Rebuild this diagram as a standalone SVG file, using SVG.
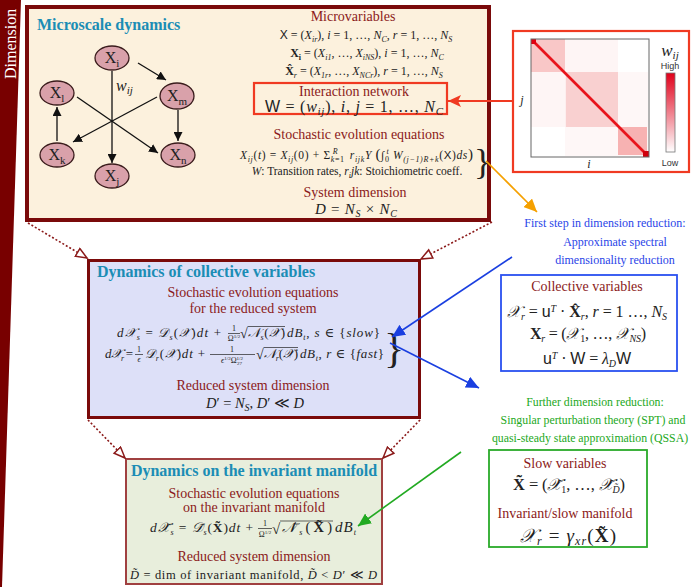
<svg xmlns="http://www.w3.org/2000/svg" width="691" height="587" viewBox="0 0 691 587">
<defs>
<style>
.t{font-family:"Liberation Serif",serif;fill:#8b1a1a;font-size:14px;text-anchor:middle}
.m{font-family:"Liberation Serif","DejaVu Serif",serif;fill:#222;font-size:12px;text-anchor:middle}
.eq{font-family:"Liberation Serif","DejaVu Serif",serif;fill:#222;font-size:13px}
.fr{font-family:"Liberation Serif","DejaVu Serif",serif;fill:#222;font-size:8px;text-anchor:middle}
.bar{stroke:#222;stroke-width:0.7}
.i{font-style:italic}
.sf{font-family:"Liberation Sans",sans-serif}
.b{font-weight:bold}
.s{font-size:8px;baseline-shift:-3px}
.p{font-size:8px;baseline-shift:5px}
.h{font-family:"Liberation Serif",serif;font-weight:bold;fill:#1b8db5;font-size:16px}
.nl{font-family:"Liberation Serif",serif;font-size:16px;fill:#222;text-anchor:middle}
.nl .s{font-size:11px;baseline-shift:-4px}
.node ellipse{fill:#d9a1aa;stroke:#3a1c1c;stroke-width:1.3}
.e{stroke:#111;stroke-width:1.3;fill:none;marker-end:url(#ah)}
.blue{font-family:"Liberation Serif",serif;fill:#2a44e8;font-size:12px;text-anchor:middle}
.green{font-family:"Liberation Serif",serif;fill:#22a822;font-size:11.8px;text-anchor:middle}
.dot{stroke:#8b1a1a;stroke-width:1.6;stroke-dasharray:2 2;fill:none;marker-end:url(#ad)}
</style>
<marker id="ah" markerUnits="userSpaceOnUse" markerWidth="10" markerHeight="9" refX="9" refY="4.5" orient="auto"><path d="M0,0 L9,4.5 L0,9 z" fill="#111"/></marker>
<marker id="ar" markerUnits="userSpaceOnUse" markerWidth="14" markerHeight="12" refX="13" refY="6" orient="auto"><path d="M0,0 L13,6 L0,12 L3,6 z" fill="#f03a22"/></marker>
<marker id="ao" markerUnits="userSpaceOnUse" markerWidth="14" markerHeight="12" refX="13" refY="6" orient="auto"><path d="M0,0 L13,6 L0,12 z" fill="#f5a000"/></marker>
<marker id="ab" markerUnits="userSpaceOnUse" markerWidth="14" markerHeight="12" refX="13" refY="6" orient="auto"><path d="M0,0 L13,6 L0,12 z" fill="#1a3fe0"/></marker>
<marker id="ag" markerUnits="userSpaceOnUse" markerWidth="14" markerHeight="12" refX="13" refY="6" orient="auto"><path d="M0,0 L13,6 L0,12 z" fill="#22aa22"/></marker>
<marker id="ad" markerUnits="userSpaceOnUse" markerWidth="14" markerHeight="12" refX="12" refY="5.5" orient="auto"><path d="M1,1 L12,5.5 L1,10 z" fill="#fff" stroke="#8b1a1a" stroke-width="1.5"/></marker>
<linearGradient id="cb" x1="0" y1="0" x2="0" y2="1"><stop offset="0" stop-color="#e0001a"/><stop offset="1" stop-color="#fff"/></linearGradient>
</defs>

<g id="dimension-axis">
<polygon points="0,0 21,0 2,587 0,587" fill="#780000"/>
<text transform="translate(16,79) rotate(-90)" font-family="Liberation Serif, serif" font-size="16" fill="#fff">Dimension</text>
</g>

<g id="microscale-box">
<rect x="27" y="7" width="462" height="213" fill="#fcf1dd" stroke="#7a0a0a" stroke-width="4"/>
<text class="h" x="37" y="30">Microscale dynamics</text>
<text class="t" x="353" y="21">Microvariables</text>
<text class="m" x="366" y="39"><tspan class="sf">X</tspan> = (<tspan class="i">X</tspan><tspan class="s i">ir</tspan>), <tspan class="i">i</tspan> = 1, …, <tspan class="i">N</tspan><tspan class="s i">C</tspan>, <tspan class="i">r</tspan> = 1, …, <tspan class="i">N</tspan><tspan class="s i">S</tspan></text>
<text class="m" x="367" y="57"><tspan class="b">X</tspan><tspan class="s b">i</tspan> = (<tspan class="i">X</tspan><tspan class="s i">i1</tspan>, …, <tspan class="i">X</tspan><tspan class="s i">iNS</tspan>), <tspan class="i">i</tspan> = 1, …, <tspan class="i">N</tspan><tspan class="s i">C</tspan></text>
<text class="m" x="364" y="75"><tspan class="b">X̂</tspan><tspan class="s i">r</tspan> = (<tspan class="i">X</tspan><tspan class="s i">1r</tspan>, …, <tspan class="i">X</tspan><tspan class="s i">NCr</tspan>), <tspan class="i">r</tspan> = 1, …, <tspan class="i">N</tspan><tspan class="s i">S</tspan></text>
<text class="t" x="359" y="139">Stochastic evolution equations</text>
<text class="eq" x="240" y="159" style="font-size:11.5px" textLength="233" lengthAdjust="spacing"><tspan class="i">X</tspan><tspan class="s i">ij</tspan>(<tspan class="i">t</tspan>) = <tspan class="i">X</tspan><tspan class="s i">ij</tspan>(0) + Σ<tspan class="s i">k</tspan><tspan class="s">=1</tspan><tspan class="p i" dx="-12">R</tspan><tspan dx="8"> </tspan><tspan class="i">r</tspan><tspan class="s i">ijk</tspan><tspan class="i">Y</tspan> <tspan font-size="15">(</tspan>∫<tspan class="s">0</tspan><tspan class="p i" dx="-3">t</tspan> <tspan class="i">W</tspan><tspan class="s i">(j−1)R+k</tspan>(<tspan class="sf">X</tspan>)<tspan class="i">ds</tspan><tspan font-size="15">)</tspan></text>
<text class="m" x="357" y="175" style="font-size:11.5px"><tspan class="i">W</tspan>: Transition rates, <tspan class="i">r</tspan><tspan class="s i">i</tspan><tspan class="i">jk</tspan>: Stoichiometric coeff.</text>
<text x="474" y="174" font-family="Liberation Serif, serif" font-size="36" fill="#222">}</text>
<text class="t" x="355" y="197">System dimension</text>
<text class="eq" x="315" y="214" style="font-size:15px" textLength="82" lengthAdjust="spacing"><tspan class="i">D</tspan> = <tspan class="i">N</tspan><tspan class="s i" style="font-size:10px">S</tspan> × <tspan class="i">N</tspan><tspan class="s i" style="font-size:10px">C</tspan></text>
</g>

<g id="interaction-network">
<rect x="254" y="83" width="193" height="31" fill="none" stroke="#f03a22" stroke-width="2.2"/>
<text class="t" x="354" y="95.5">Interaction network</text>
<text class="eq" x="265" y="111.5" style="font-size:16px" textLength="178" lengthAdjust="spacing"><tspan class="sf">W</tspan> = (<tspan class="i">w</tspan><tspan class="s i" style="font-size:11px">ij</tspan>), <tspan class="i">i, j</tspan> = 1, …, <tspan class="i">N</tspan><tspan class="s i" style="font-size:11px">C</tspan></text>
</g>

<g id="node-Xi" class="node"><ellipse cx="112" cy="58" rx="17" ry="12"/><text class="nl" x="112" y="63">X<tspan class="s">i</tspan></text></g>
<g id="node-Xm" class="node"><ellipse cx="177" cy="96" rx="17" ry="13"/><text class="nl" x="177" y="101">X<tspan class="s">m</tspan></text></g>
<g id="node-Xl" class="node"><ellipse cx="57" cy="93" rx="17" ry="12"/><text class="nl" x="57" y="98">X<tspan class="s">l</tspan></text></g>
<g id="node-Xk" class="node"><ellipse cx="57" cy="155" rx="17" ry="12"/><text class="nl" x="57" y="160">X<tspan class="s">k</tspan></text></g>
<g id="node-Xn" class="node"><ellipse cx="178" cy="155" rx="17" ry="12"/><text class="nl" x="178" y="160">X<tspan class="s">n</tspan></text></g>
<g id="node-Xj" class="node"><ellipse cx="112" cy="176" rx="17" ry="12"/><text class="nl" x="112" y="181">X<tspan class="s">j</tspan></text></g>

<g id="graph-edges">
<line class="e" x1="138" y1="63" x2="166" y2="80"/>
<line class="e" x1="112" y1="71" x2="112" y2="163"/>
<line class="e" x1="178" y1="110" x2="178" y2="141"/>
<line class="e" x1="157" y1="97" x2="73" y2="142"/>
<line class="e" x1="77" y1="97" x2="158" y2="153"/>
<line class="e" x1="57" y1="141" x2="57" y2="107"/>
<text x="116" y="91" font-family="Liberation Serif, serif" font-style="italic" font-size="16" fill="#222">w<tspan font-size="11" baseline-shift="-3">ij</tspan></text>
</g>

<g id="heatmap">
<rect x="513" y="31" width="176" height="141" fill="#fff" stroke="#f03a22" stroke-width="2.2"/>
<rect x="531" y="39" width="118" height="118" fill="#fff"/>
<rect x="531" y="39" width="87" height="88" fill="#f8c8c8" opacity="0.18"/>
<rect x="565" y="72" width="83" height="84" fill="#f8c8c8" opacity="0.15"/>
<rect x="531" y="39" width="34" height="33" fill="#f39a9a" opacity="0.5"/>
<rect x="566" y="72" width="52" height="55" fill="#f5aaaa" opacity="0.45"/>
<rect x="618" y="127" width="29" height="28" fill="#f07a7a" opacity="0.55"/>
<line x1="532" y1="40" x2="648" y2="156" stroke="#e8141c" stroke-width="2.6"/>
<rect x="531" y="39" width="5" height="5" fill="#e00010"/>
<rect x="643" y="151" width="6" height="6" fill="#d0000c"/>
<rect x="531" y="39" width="118" height="118" fill="none" stroke="#666" stroke-width="1"/>
<text x="670" y="56" font-family="Liberation Serif, serif" font-style="italic" font-size="17" fill="#222" text-anchor="middle">w<tspan font-size="11" baseline-shift="-3">ij</tspan></text>
<text x="670" y="69" font-family="Liberation Sans, sans-serif" font-size="9" fill="#333" text-anchor="middle">High</text>
<rect x="666" y="73" width="9" height="79" fill="url(#cb)" stroke="#777" stroke-width="0.8"/>
<text x="670" y="166" font-family="Liberation Sans, sans-serif" font-size="9" fill="#333" text-anchor="middle">Low</text>
<text x="522" y="104" font-family="Liberation Serif, serif" font-style="italic" font-size="12" fill="#222" text-anchor="middle">j</text>
<text x="589" y="168" font-family="Liberation Serif, serif" font-style="italic" font-size="12" fill="#222" text-anchor="middle">i</text>
</g>

<g id="step1-label">
<text class="blue" x="605" y="227">First step in dimension reduction:</text>
<text class="blue" x="615" y="246">Approximate spectral</text>
<text class="blue" x="615" y="264">dimensionality reduction</text>
</g>

<g id="collective-variables-box">
<rect x="501" y="275" width="176" height="96" fill="#fff" stroke="#2a50f0" stroke-width="1.8"/>
<text class="t" x="587" y="291">Collective variables</text>
<text class="eq" x="507" y="317" style="font-size:16px" textLength="160" lengthAdjust="spacing"><tspan class="i">𝒳</tspan><tspan class="s i" style="font-size:10px">r</tspan> = <tspan class="sf">u</tspan><tspan class="p i" style="font-size:10px">T</tspan> · <tspan class="b">X̂</tspan><tspan class="s i" style="font-size:10px">r</tspan>, <tspan class="i">r</tspan> = 1 …, <tspan class="i">N</tspan><tspan class="s i" style="font-size:10px">S</tspan></text>
<text class="eq" x="530" y="339" style="font-size:16px" textLength="116" lengthAdjust="spacing"><tspan class="b">X</tspan><tspan class="s i" style="font-size:10px">r</tspan> = (<tspan class="i">𝒳</tspan><tspan class="s" style="font-size:10px">1</tspan>, …, <tspan class="i">𝒳</tspan><tspan class="s i" style="font-size:10px">NS</tspan>)</text>
<text class="eq" x="543" y="364" style="font-size:16px" textLength="88" lengthAdjust="spacing"><tspan class="sf">u</tspan><tspan class="p i" style="font-size:10px">T</tspan> · <tspan class="sf">W</tspan> = <tspan class="i">λ</tspan><tspan class="s i" style="font-size:10px">D</tspan><tspan class="sf">W</tspan></text>
</g>

<g id="step2-label">
<text class="green" x="595" y="406">Further dimension reduction:</text>
<text class="green" x="593" y="424">Singular perturbation theory (SPT) and</text>
<text class="green" x="590" y="442">quasi-steady state approximation (QSSA)</text>
</g>

<g id="slow-variables-box">
<rect x="489" y="450" width="158" height="97" fill="#fff" stroke="#2aaa2a" stroke-width="1.8"/>
<text class="t" x="565" y="468">Slow variables</text>
<text class="eq" x="513" y="490" style="font-size:16.5px" textLength="112" lengthAdjust="spacing"><tspan class="b">X̃</tspan> = (<tspan class="i">𝒳̃</tspan><tspan class="s" style="font-size:10px">1</tspan>, …, <tspan class="i">𝒳̃</tspan><tspan class="s i" style="font-size:10px">D̃</tspan>)</text>
<text class="t" x="565" y="518">Invariant/slow manifold</text>
<text class="eq" x="520" y="542" style="font-size:19px" textLength="96" lengthAdjust="spacing"><tspan class="i">𝒳</tspan><tspan class="s i" style="font-size:12px">r</tspan> = <tspan class="i">γ</tspan><tspan class="s i" style="font-size:12px">xr</tspan>(<tspan class="b">X̃</tspan>)</text>
</g>

<g id="collective-dynamics-box">
<rect x="88.5" y="260.5" width="331" height="157" fill="#dde0f8" stroke="#7a0a0a" stroke-width="3"/>
<text class="h" x="97" y="277">Dynamics of collective variables</text>
<text class="t" x="253" y="297">Stochastic evolution equations</text>
<text class="t" x="253" y="313">for the reduced system</text>
<text class="eq" x="117" y="337" textLength="104" lengthAdjust="spacing"><tspan class="i">d𝒳</tspan><tspan class="s i">s</tspan> = <tspan class="i">𝒟</tspan><tspan class="s i">s</tspan>(<tspan class="i">𝒳</tspan>)<tspan class="i">dt</tspan> +</text>
<text class="fr" x="234" y="331">1</text>
<line class="bar" x1="228" y1="333.5" x2="240" y2="333.5"/>
<text class="fr" x="234" y="341">Ω<tspan font-size="5" baseline-shift="3">1/2</tspan></text>
<text class="eq" x="240" y="338" style="font-size:14px">√</text>
<line class="bar" x1="247.5" y1="326.5" x2="285" y2="326.5"/>
<text class="eq" x="248" y="337" textLength="37" lengthAdjust="spacing"><tspan class="i">𝒩</tspan><tspan class="s i">s</tspan>(<tspan class="i">𝒳</tspan>)</text>
<text class="eq" x="287" y="337" textLength="93" lengthAdjust="spacing"><tspan class="i">dB</tspan><tspan class="s i">t</tspan>, <tspan class="i">s</tspan> ∈ {<tspan class="i">slow</tspan>}</text>

<text class="eq" x="105" y="358" textLength="28" lengthAdjust="spacing"><tspan class="i">d𝒳</tspan><tspan class="s i">r</tspan> =</text>
<text class="fr" x="139" y="352">1</text>
<line class="bar" x1="135" y1="354.5" x2="143" y2="354.5"/>
<text class="fr i" x="139" y="362">ϵ</text>
<text class="eq" x="145" y="358" textLength="60" lengthAdjust="spacing"><tspan class="i">𝒟</tspan><tspan class="s i">r</tspan>(<tspan class="i">𝒳</tspan>)<tspan class="i">dt</tspan> +</text>
<text class="fr" x="232" y="352">1</text>
<line class="bar" x1="210" y1="354.5" x2="255" y2="354.5"/>
<text class="fr" x="232" y="363"><tspan class="i">ϵ</tspan><tspan font-size="5" baseline-shift="3">1/2</tspan>Ω<tspan font-size="5" baseline-shift="3">1/2</tspan><tspan font-size="5" dx="-6" baseline-shift="-2">27</tspan></text>
<text class="eq" x="256" y="359" style="font-size:14px">√</text>
<line class="bar" x1="263.5" y1="347.5" x2="298" y2="347.5"/>
<text class="eq" x="264" y="358" textLength="34" lengthAdjust="spacing"><tspan class="i">𝒩</tspan><tspan class="s i">r</tspan>(<tspan class="i">𝒳</tspan>)</text>
<text class="eq" x="300" y="358" textLength="84" lengthAdjust="spacing"><tspan class="i">dB</tspan><tspan class="s i">t</tspan>, <tspan class="i">r</tspan> ∈ {<tspan class="i">fast</tspan>}</text>
<text x="384" y="362" font-family="Liberation Serif, serif" font-size="42" fill="#222">}</text>
<text class="t" x="253" y="390">Reduced system dimension</text>
<text class="eq" x="206" y="408" style="font-size:14.5px" textLength="98" lengthAdjust="spacing"><tspan class="i">D</tspan>′ = <tspan class="i">N</tspan><tspan class="s i" style="font-size:10px">S</tspan>, <tspan class="i">D</tspan>′ ≪ <tspan class="i">D</tspan></text>
</g>

<g id="invariant-manifold-box">
<rect x="126" y="459" width="256" height="125" fill="#e8eedc" stroke="#a04040" stroke-width="2"/>
<text class="h" x="254" y="476" text-anchor="middle">Dynamics on the invariant manifold</text>
<text class="t" x="254" y="498">Stochastic evolution equations</text>
<text class="t" x="254" y="512">on the invariant manifold</text>
<text class="eq" x="150" y="532" style="font-size:13.5px" textLength="103" lengthAdjust="spacing"><tspan class="i">d𝒳̃</tspan><tspan class="s i">s</tspan> = <tspan class="i">𝒟̃</tspan><tspan class="s i">s</tspan>(<tspan class="b">X̃</tspan>)<tspan class="i">dt</tspan> +</text>
<text class="fr" x="265" y="526">1</text>
<line class="bar" x1="258" y1="528.5" x2="272" y2="528.5"/>
<text class="fr" x="265" y="537">Ω<tspan font-size="5" baseline-shift="3">1/2</tspan></text>
<text class="eq" x="272" y="534" style="font-size:15px">√</text>
<line class="bar" x1="280" y1="521" x2="333" y2="521"/>
<text class="eq" x="282" y="532" style="font-size:14.5px" textLength="50" lengthAdjust="spacing"><tspan class="i">𝒩̃</tspan><tspan class="s i">s</tspan>(<tspan class="b">X̃</tspan>)</text>
<text class="eq" x="335" y="532" style="font-size:15px" textLength="21" lengthAdjust="spacing"><tspan class="i">dB</tspan><tspan class="s i">t</tspan></text>
<text class="t" x="254" y="561">Reduced system dimension</text>
<text class="eq" x="130" y="579" style="font-size:12.5px" textLength="247" lengthAdjust="spacing"><tspan class="i">D̃</tspan> = dim of invariant manifold,  <tspan class="i">D̃</tspan> &lt; <tspan class="i">D</tspan>′ ≪ <tspan class="i">D</tspan></text>
</g>

<g id="connectors">
<line x1="513" y1="101" x2="448" y2="101" stroke="#f03a22" stroke-width="2.2" marker-end="url(#ar)"/>
<line x1="486" y1="161" x2="537" y2="212" stroke="#f5a000" stroke-width="1.6" marker-end="url(#ao)"/>
<line x1="512" y1="257" x2="392" y2="337" stroke="#1a3fe0" stroke-width="1.6" marker-end="url(#ab)"/>
<line x1="390" y1="343" x2="479" y2="388" stroke="#1a3fe0" stroke-width="1.6" marker-end="url(#ab)"/>
<line x1="461" y1="452" x2="358" y2="526" stroke="#22aa22" stroke-width="1.6" marker-end="url(#ag)"/>
<line class="dot" x1="28" y1="223" x2="87" y2="258"/>
<line class="dot" x1="492" y1="222" x2="421" y2="259"/>
<line class="dot" x1="88" y1="420" x2="125" y2="458"/>
<line class="dot" x1="420" y1="420" x2="383" y2="458"/>
</g>
</svg>
